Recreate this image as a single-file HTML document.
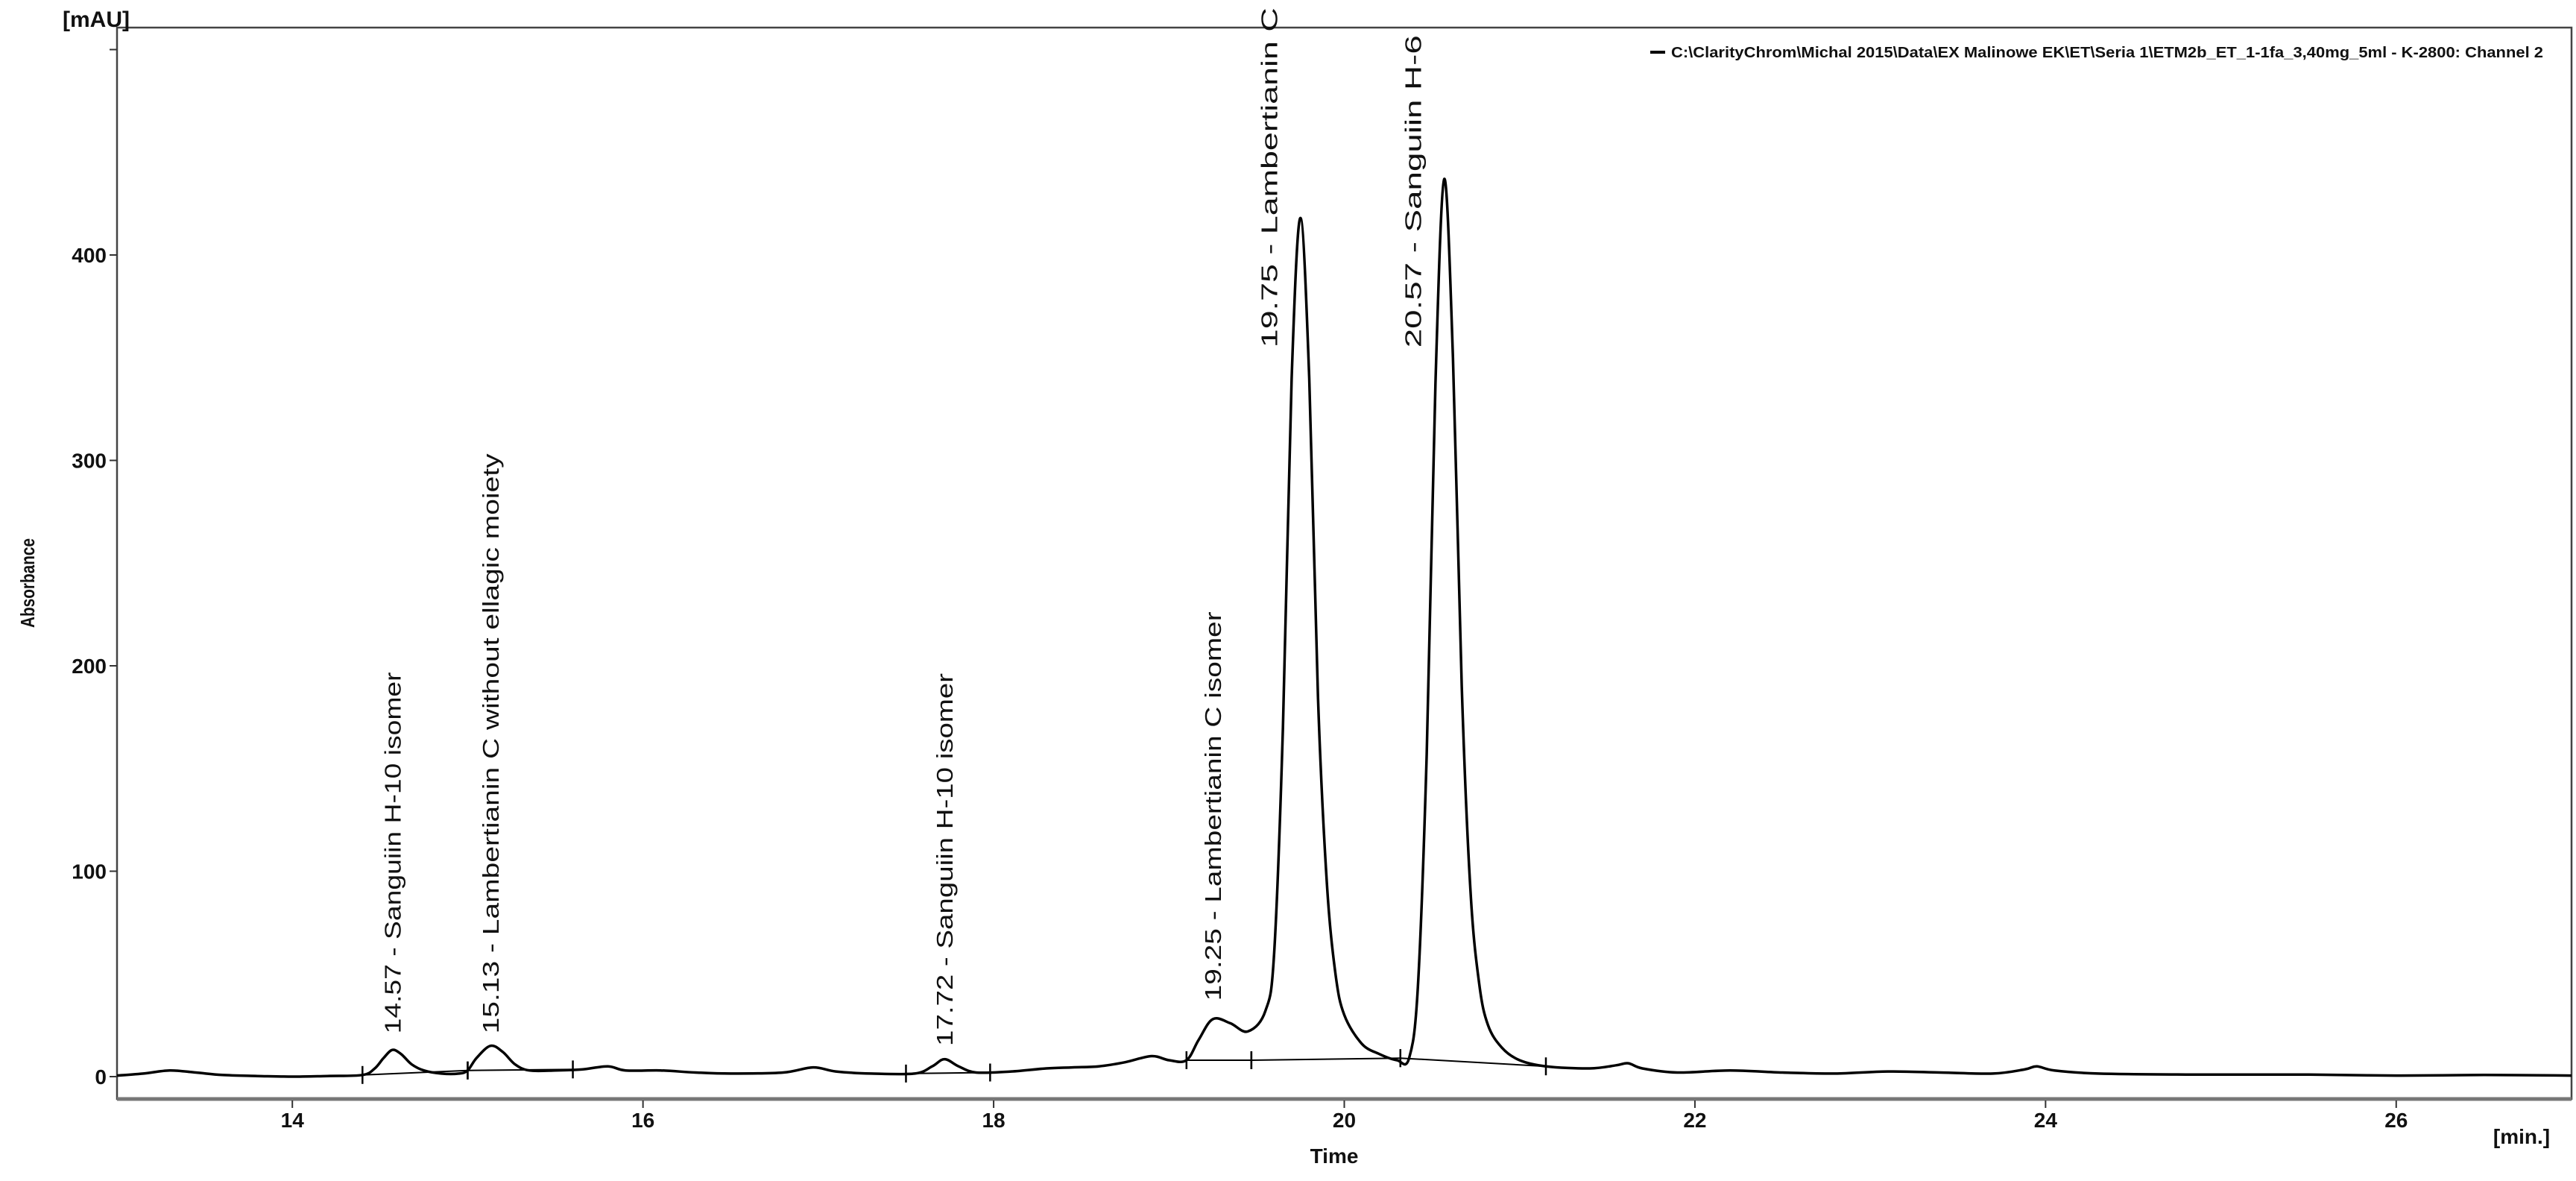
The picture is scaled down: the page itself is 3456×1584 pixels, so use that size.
<!DOCTYPE html>
<html><head><meta charset="utf-8">
<style>
html,body{margin:0;padding:0;background:#fff;}
svg{display:block;font-family:"Liberation Sans",sans-serif;}
</style></head>
<body>
<svg id="chart" width="3456" height="1584" viewBox="0 0 3456 1584" xmlns="http://www.w3.org/2000/svg">
<rect x="0" y="0" width="3456" height="1584" fill="#fff"/>
<g id="frame"></g>
<g id="yticks"></g>
<g id="xticks"></g>
<g id="series"></g>
<g id="annots"></g>
<text x="84" y="36" font-size="30" font-weight="bold" fill="#111">[mAU]</text>
<text transform="translate(46,782) rotate(-90)" text-anchor="middle" font-size="26" font-weight="bold" fill="#111" textLength="120" lengthAdjust="spacingAndGlyphs">Absorbance</text>
<text x="1790" y="1560" text-anchor="middle" font-size="28" font-weight="bold" fill="#111">Time</text>
<text x="3383" y="1534" text-anchor="middle" font-size="28" font-weight="bold" fill="#111">[min.]</text>
<g>
<line x1="2214" y1="70" x2="2234" y2="70" stroke="#000" stroke-width="4"/>
<text x="2242" y="77" font-size="20" font-weight="bold" fill="#111" textLength="1170" lengthAdjust="spacingAndGlyphs">C:\ClarityChrom\Michal 2015\Data\EX Malinowe EK\ET\Seria 1\ETM2b_ET_1-1fa_3,40mg_5ml - K-2800: Channel 2</text>
</g>
</svg>
<script>
// data
const times = [13.0,13.15,13.3,13.45,13.6,13.8,14.0,14.2,14.4,14.47,14.52,14.57,14.62,14.68,14.75,14.85,14.95,15.0,15.05,15.13,15.2,15.27,15.35,15.5,15.65,15.8,15.9,16.1,16.3,16.5,16.8,16.97,17.1,17.3,17.55,17.65,17.72,17.8,17.9,18.1,18.3,18.45,18.6,18.75,18.9,19.0,19.1,19.17,19.25,19.35,19.45,19.55,19.6,19.65,19.7,19.75,19.8,19.85,19.9,19.95,20.0,20.1,20.2,20.3,20.37,20.42,20.47,20.52,20.57,20.62,20.67,20.72,20.77,20.82,20.9,21.0,21.15,21.4,21.55,21.62,21.7,21.9,22.2,22.5,22.8,23.1,23.4,23.7,23.88,23.95,24.05,24.3,24.8,25.5,26.0,26.5,27.0];
const absorb = [0.5,1.5,3,2,0.8,0.3,0,0.3,0.8,4,9,13,11,6,3,1.5,1.5,3,9,15,12,6,3,3,3.5,5,3,3,2,1.5,2,4.5,2.5,1.5,1.5,5,8.5,5,2,2.5,4,4.5,5,7,10,8,8,18,28,26,22,32,60,170,340,418,340,185,95,50,30,16,11,8,9,44,157,337,437,350,190,90,45,25,14,8,5,4,5.5,6.5,4,2,3,2,1.5,2.5,2,1.5,3.5,5,3,1.5,1,1,0.5,0.8,0.5];
const xTicks = [14,16,18,20,22,24,26];
const yTicks = [0,100,200,300,400];
const yTicksMinor = [500];
const peakTimes = [14.57,15.13,17.72,19.25,19.75,20.57];
const peakLabels = ["14.57 - Sanguiin H-10 isomer","15.13 - Lambertianin C without ellagic moiety","17.72 - Sanguiin H-10 isomer","19.25 - Lambertianin C isomer","19.75 - Lambertianin C","20.57 - Sanguiin H-6"];
const labelBase = [18,18,12,34,352,352];
const labelLen = [485,778,500,522,456,419];
const labelShift = [0,0,0,0,-42,-42];
const baseSegT = [[14.4,15.0],[15.0,15.6],[17.5,17.98],[19.1,19.47],[19.47,20.32],[20.32,21.15]];
const baseSegV = [[0.8,3],[3,3.5],[1.5,2],[8,8],[8,9],[9,5]];

const X0=157,X1=3450,T0=13,T1=27,Y0=1444,PER=2.755;
const sx=t=>X0+(t-T0)/(T1-T0)*(X1-X0);
const sy=v=>Y0-v*PER;
const NS='http://www.w3.org/2000/svg';
function mk(tag,parent){const e=document.createElementNS(NS,tag);parent.appendChild(e);return e;}

const frame=document.getElementById('frame');
let r=mk('rect',frame);


r.setAttribute('x',X0);r.setAttribute('y',37);r.setAttribute('width',X1-X0);r.setAttribute('height',1437);
r.setAttribute('fill','none');r.setAttribute('stroke','#444');r.setAttribute('stroke-width','2.5');
let bb=mk('line',frame);


bb.setAttribute('x1',X0);bb.setAttribute('x2',X1);bb.setAttribute('y1',1474);bb.setAttribute('y2',1474);
bb.setAttribute('stroke','#777');bb.setAttribute('stroke-width','5');

const yg=document.getElementById('yticks');
yTicks.concat(yTicksMinor).forEach((v,i)=>{
  const l=mk('line',yg);
  
  
  l.setAttribute('x1',X0-10);l.setAttribute('x2',X0);l.setAttribute('y1',sy(v));l.setAttribute('y2',sy(v));
  l.setAttribute('stroke','#333');l.setAttribute('stroke-width','2');
  if(i<yTicks.length){
    const t=mk('text',yg);
    
    
    t.setAttribute('x',X0-14);t.setAttribute('y',sy(v)+10);t.setAttribute('text-anchor','end');
    t.setAttribute('font-size','28');t.setAttribute('font-weight','bold');t.setAttribute('fill','#111');
    t.textContent=v;
  }
});
const xg=document.getElementById('xticks');
xTicks.forEach(v=>{
  const l=mk('line',xg);
  
  
  l.setAttribute('x1',sx(v));l.setAttribute('x2',sx(v));l.setAttribute('y1',1476);l.setAttribute('y2',1486);
  l.setAttribute('stroke','#333');l.setAttribute('stroke-width','2');
  const t=mk('text',xg);
  
  
  t.setAttribute('x',sx(v));t.setAttribute('y',1512);t.setAttribute('text-anchor','middle');
  t.setAttribute('font-size','28');t.setAttribute('font-weight','bold');t.setAttribute('fill','#111');
  t.textContent=v;
});

// smooth (Catmull-Rom) path through the data points
const pts=times.map((t,i)=>[sx(t),sy(absorb[i])]);
let d='M'+pts[0][0].toFixed(1)+','+pts[0][1].toFixed(1);
for(let i=0;i<pts.length-1;i++){
  const p0=pts[Math.max(0,i-1)],p1=pts[i],p2=pts[i+1],p3=pts[Math.min(pts.length-1,i+2)];
  const c1=[p1[0]+(p2[0]-p0[0])/6,p1[1]+(p2[1]-p0[1])/6];
  const c2=[p2[0]-(p3[0]-p1[0])/6,p2[1]-(p3[1]-p1[1])/6];
  d+='C'+c1[0].toFixed(1)+','+c1[1].toFixed(1)+' '+c2[0].toFixed(1)+','+c2[1].toFixed(1)+' '+p2[0].toFixed(1)+','+p2[1].toFixed(1);
}
const sg=document.getElementById('series');
const p=mk('path',sg);


p.setAttribute('d',d);
p.setAttribute('fill','none');p.setAttribute('stroke','#000');p.setAttribute('stroke-width','3.5');p.setAttribute('stroke-linejoin','round');
baseSegT.forEach((s,i)=>{
  const l=mk('line',sg);
  
  
  l.setAttribute('x1',sx(s[0]));l.setAttribute('x2',sx(s[1]));l.setAttribute('y1',sy(baseSegV[i][0]));l.setAttribute('y2',sy(baseSegV[i][1]));
  l.setAttribute('stroke','#000');l.setAttribute('stroke-width','2');
  [0,1].forEach(k=>{
    const m=mk('line',sg);
    
    
    m.setAttribute('x1',sx(s[k]));m.setAttribute('x2',sx(s[k]));m.setAttribute('y1',sy(baseSegV[i][k])-12);m.setAttribute('y2',sy(baseSegV[i][k])+12);
    m.setAttribute('stroke','#000');m.setAttribute('stroke-width','2.5');
  });
});

const ag=document.getElementById('annots');
peakTimes.forEach((t,i)=>{
  const x=sx(t)+labelShift[i]+11, y=sy(labelBase[i])-8;
  const tx=mk('text',ag);
  
  
  tx.setAttribute('transform','translate('+x+','+y+') rotate(-90)');
  tx.setAttribute('font-size','31');tx.setAttribute('fill','#111');
  tx.setAttribute('textLength',labelLen[i]);tx.setAttribute('lengthAdjust','spacingAndGlyphs');
  tx.textContent=peakLabels[i];
});
</script>
</body></html>
